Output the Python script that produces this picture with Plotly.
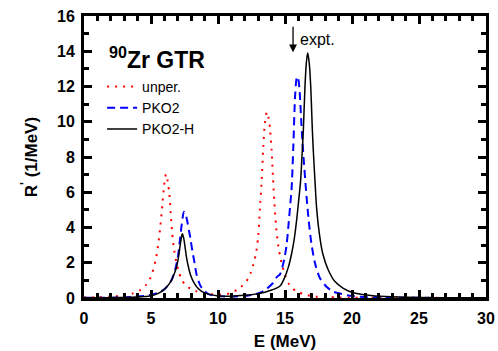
import plotly.graph_objects as go

# ---- data ----
e_unper = [0.0, 1.0, 2.0, 3.0, 3.6, 4.2, 4.6, 4.9, 5.1, 5.35, 5.55, 5.7, 5.85, 5.98, 6.12,
           6.25, 6.37, 6.47, 6.58, 6.72, 6.9, 7.05, 7.3, 7.6, 7.9, 8.4, 9.0, 9.5, 10.0,
           10.65, 11.0, 11.4, 11.7, 12.0, 12.25, 12.45, 12.65, 12.84, 13.0, 13.13, 13.25,
           13.38, 13.5, 13.65, 13.78, 13.88, 14.0, 14.1, 14.2, 14.33, 14.5, 14.68, 14.85,
           15.0, 15.25, 15.5, 15.87, 16.5, 17.1, 18.0, 19.0, 20.0, 22.0, 25.0, 30.0]
r_unper = [0.03, 0.04, 0.08, 0.14, 0.25, 0.45, 0.72, 1.05, 1.45, 2.16, 3.1, 4.1, 5.3, 6.4, 7.03,
           6.6, 5.9, 4.8, 3.7, 2.75, 2.0, 1.55, 1.02, 0.72, 0.55, 0.38, 0.28, 0.22, 0.20,
           0.22, 0.32, 0.45, 0.62, 0.85, 1.1, 1.45, 1.95, 2.55, 3.5, 5.1, 6.5,
           8.6, 9.9, 10.55, 10.2, 9.6, 8.4, 6.9, 5.5, 4.1, 2.95, 2.2, 1.7,
           1.3, 0.85, 0.6, 0.36, 0.2, 0.09, 0.05, 0.03, 0.02, 0.01, 0.01, 0.0]

e_pko2 = [0.0, 2.0, 3.0, 3.7, 4.5, 5.0, 5.5, 5.92, 6.25, 6.55, 6.8, 7.0, 7.16, 7.3, 7.46,
          7.6, 7.71, 7.84, 7.96, 8.08, 8.21, 8.41, 8.6, 8.78, 9.0, 9.28, 9.65, 10.2, 11.1,
          12.0, 12.6, 13.13, 13.6, 14.1, 14.4, 14.63, 14.93, 15.1, 15.25, 15.38, 15.5,
          15.62, 15.75, 15.85, 15.92, 16.0, 16.12, 16.2, 16.3, 16.42, 16.57, 16.74, 16.97,
          17.24, 17.61, 18.1, 18.6, 19.23, 19.85, 20.6, 22.0, 25.0, 30.0]
r_pko2 = [0.01, 0.02, 0.04, 0.07, 0.12, 0.18, 0.3, 0.45, 0.7, 1.05, 1.6, 2.3, 3.3, 4.2, 4.9,
          4.7, 4.34, 3.8, 3.3, 2.7, 2.16, 1.3, 0.85, 0.58, 0.4, 0.22, 0.15, 0.1, 0.08,
          0.12, 0.18, 0.3, 0.5, 0.85, 1.2, 1.35, 2.16, 2.9, 4.05, 5.2, 6.3,
          8.6, 11.4, 12.4, 12.57, 12.4, 11.4, 10.2, 8.9, 7.6, 6.1, 4.62, 3.1,
          1.97, 1.12, 0.64, 0.36, 0.23, 0.13, 0.07, 0.03, 0.01, 0.0]

e_pko2h = [0.0, 2.0, 3.0, 4.0, 4.9, 5.5, 5.92, 6.25, 6.54, 6.75, 6.92, 7.05, 7.16, 7.26, 7.34,
           7.44, 7.54, 7.65, 7.78, 7.95, 8.16, 8.45, 8.78, 9.3, 10.0, 11.0, 12.0, 12.8, 13.5,
           14.0, 14.63, 15.0, 15.25, 15.5, 15.7, 15.87, 16.03, 16.17, 16.27, 16.37, 16.49,
           16.6, 16.69, 16.8, 16.92, 17.04, 17.11, 17.24, 17.37, 17.56, 17.81, 18.23, 18.73,
           19.35, 20.1, 21.1, 22.5, 25.0, 30.0]
r_pko2h = [0.01, 0.02, 0.03, 0.06, 0.11, 0.25, 0.45, 0.7, 1.02, 1.4, 1.8, 2.3, 2.9, 3.4, 3.64,
           3.4, 2.9, 2.3, 1.8, 1.3, 0.93, 0.6, 0.38, 0.22, 0.12, 0.1, 0.15, 0.22, 0.33,
           0.45, 0.68, 1.21, 1.75, 2.54, 3.4, 4.43, 5.6, 6.7, 8.1, 9.55, 12.0,
           13.4, 13.9, 13.4, 12.0, 9.55, 8.4, 6.6, 5.0, 3.67, 2.54, 1.59, 0.93,
           0.55, 0.3, 0.17, 0.08, 0.03, 0.01]

x_ticks = [0, 5, 10, 15, 20, 25, 30]
y_ticks = [0, 2, 4, 6, 8, 10, 12, 14, 16]

FONT = "Arial, Liberation Sans, sans-serif"

fig = go.Figure()
fig.add_trace(go.Scatter(x=e_unper, y=r_unper, mode="lines", name="unper.",
                         line=dict(color="#ff0000", width=2, dash="2px,6px", shape="spline", smoothing=0.8)))
fig.add_trace(go.Scatter(x=e_pko2, y=r_pko2, mode="lines", name="PKO2",
                         line=dict(color="#0000ff", width=2, dash="8px,5px", shape="spline", smoothing=0.8)))
fig.add_trace(go.Scatter(x=e_pko2h, y=r_pko2h, mode="lines", name="PKO2-H",
                         line=dict(color="#000000", width=1.5, shape="spline", smoothing=0.8)))

axis_common = dict(showline=True, linecolor="black", linewidth=3, mirror="ticks",
                   ticks="inside", ticklen=8, tickwidth=2.5, tickcolor="black",
                   showgrid=False, zeroline=False, automargin=False,
                   tickfont=dict(family=FONT, size=16, color="black", weight="bold"))

fig.update_xaxes(range=[0, 30], tickvals=x_ticks, ticklabelstandoff=4,
                 minor=dict(dtick=1, ticks="inside", ticklen=5, tickwidth=2.5, tickcolor="black"),
                 title=dict(text="E (MeV)", font=dict(family=FONT, size=17, color="black", weight="bold"), standoff=14),
                 **axis_common)
fig.update_yaxes(range=[0, 16], tickvals=y_ticks, ticklabelstandoff=3,
                 minor=dict(dtick=1, ticks="inside", ticklen=5, tickwidth=2.5, tickcolor="black"),
                 title=dict(text="R<sup>'</sup> (1/MeV)", font=dict(family=FONT, size=17, color="black", weight="bold"), standoff=16),
                 **axis_common)

fig.add_annotation(x=1.75, y=13.6, xref="x", yref="y", text="<sup>90</sup>Zr GTR", showarrow=False,
                   xanchor="left", yanchor="middle",
                   font=dict(family=FONT, size=23, color="black", weight="bold"))
fig.add_annotation(x=15.6, y=13.94, xref="x", yref="y", ax=0, ay=-27, text="",
                   showarrow=True, arrowhead=2, arrowsize=1.2, arrowwidth=1.3, arrowcolor="black", standoff=0)
fig.add_annotation(x=16.0, y=14.66, xref="x", yref="y", text="expt.", showarrow=False,
                   xanchor="left", yanchor="middle",
                   font=dict(family=FONT, size=16, color="black"))

fig.update_layout(
    width=498, height=351,
    margin=dict(l=84, r=12, t=16, b=53, autoexpand=False),
    paper_bgcolor="white", plot_bgcolor="white",
    showlegend=True,
    legend=dict(x=0.045, y=0.805, xanchor="left", yanchor="top", bgcolor="rgba(0,0,0,0)",
                font=dict(family=FONT, size=14, color="black"), tracegroupgap=0,
                itemwidth=30),
)

fig.write_html("out.html")
